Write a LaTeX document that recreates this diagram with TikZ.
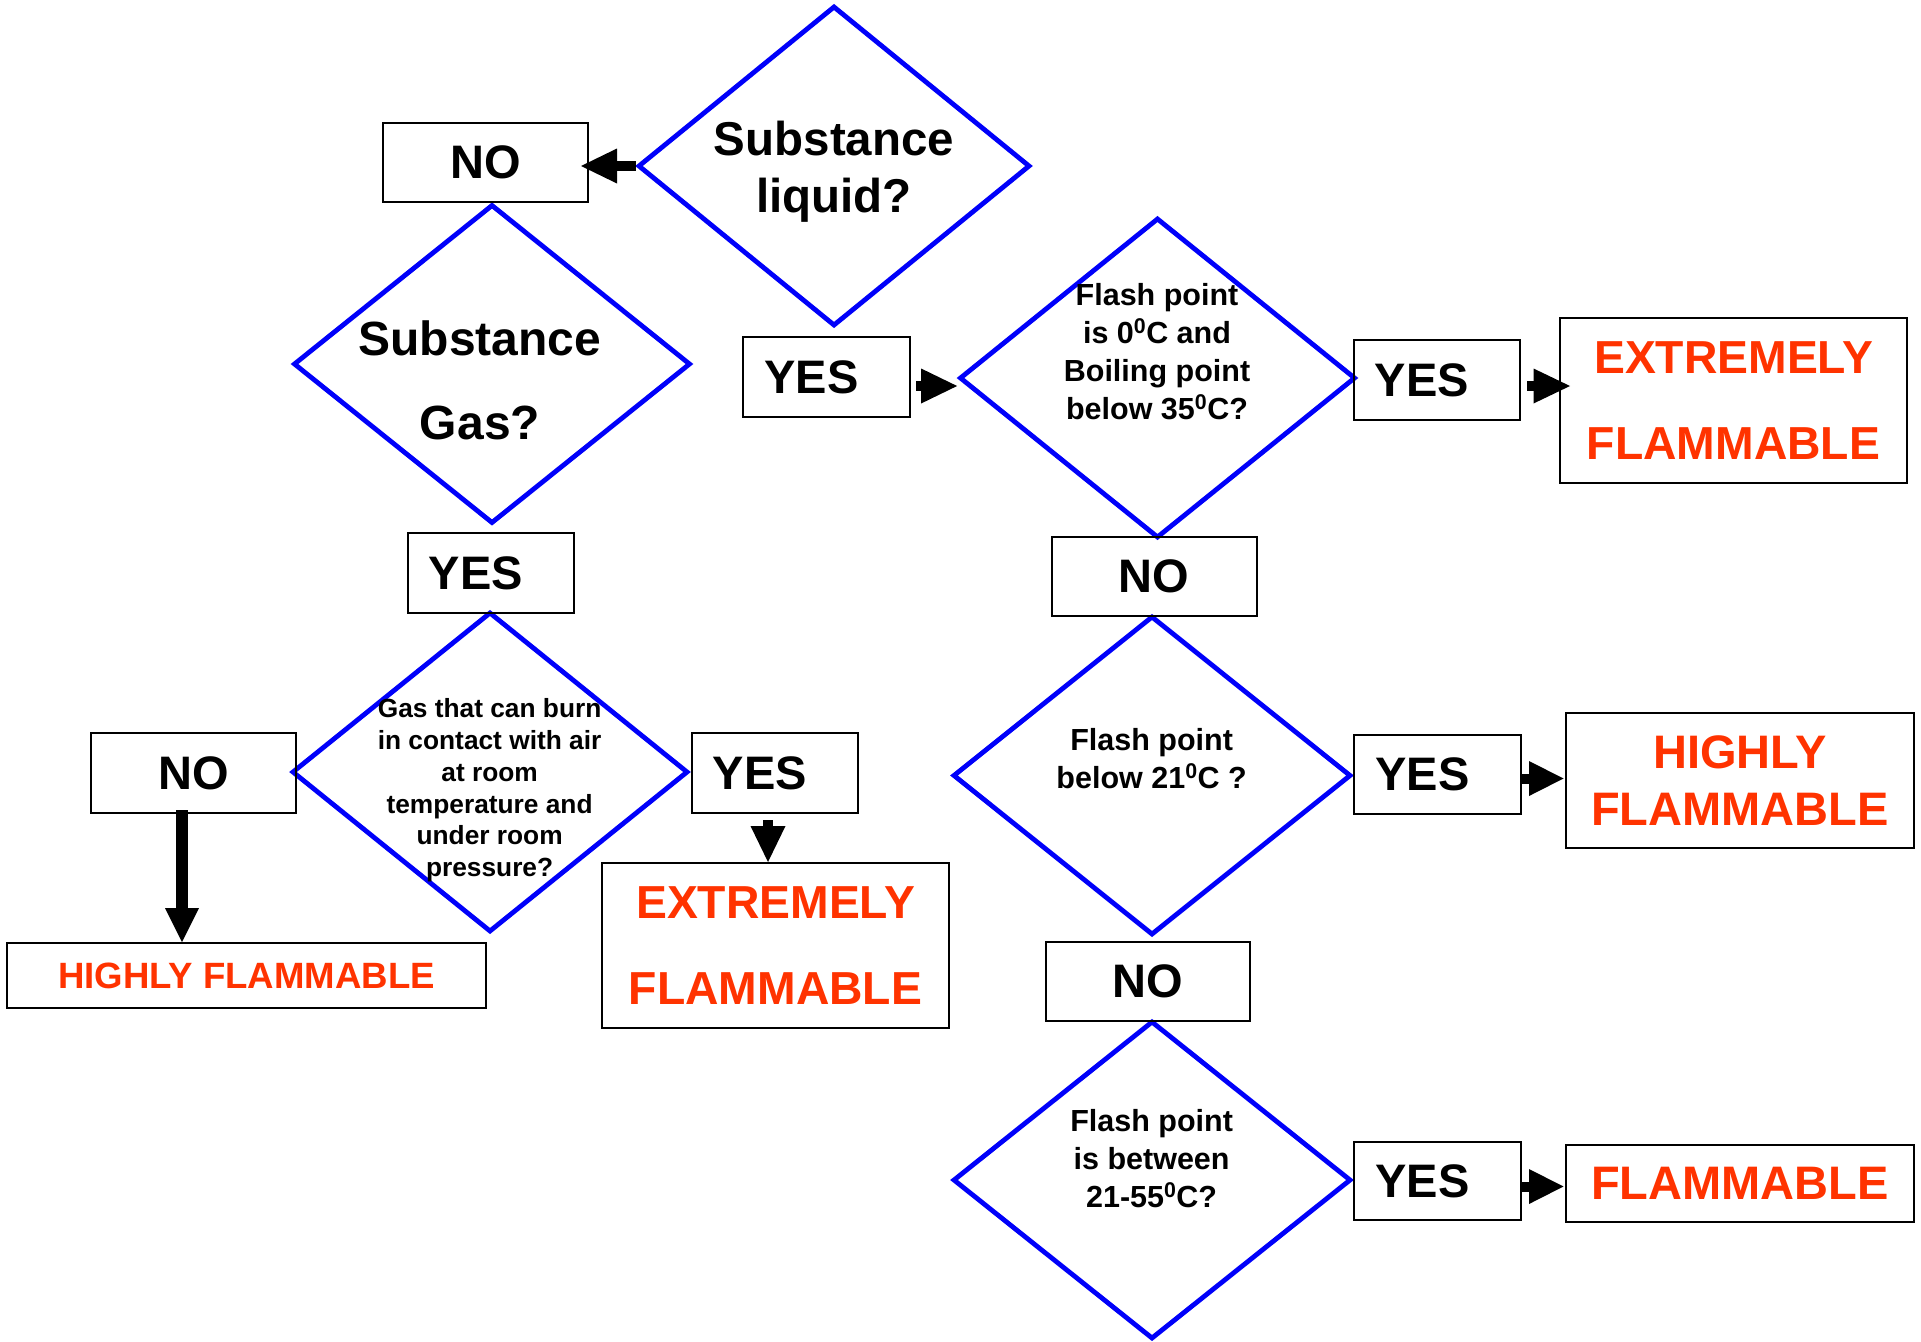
\documentclass[tikz,border=0pt]{standalone}
\usepackage{fontspec}
\setmainfont{Liberation Sans}
\usetikzlibrary{shapes.geometric,arrows.meta}
\definecolor{dblue}{RGB}{0,0,250}
\definecolor{fred}{RGB}{255,51,0}
\newcommand\fsz[2]{\fontsize{#1}{#2}\selectfont\bfseries}
\begin{document}
\begin{tikzpicture}[x=1pt,y=-1pt,
  dia/.style={diamond, draw=dblue, line width=4.8pt, inner sep=0pt},
  box/.style={draw=black, line width=2pt, inner sep=0pt, font=\fsz{47}{56}},
  redbox/.style={box, text=fred, align=center},
  qtext/.style={align=center, anchor=base, inner sep=0pt},
  blk/.style={line width=10pt, -{Triangle[length=36pt,width=35pt,line width=0pt]}}]
\fill[white] (0,0) rectangle (1921,1341);
\useasboundingbox (0,0) rectangle (1921,1341);

% diamonds
\node[dia, minimum width=392pt, minimum height=320pt] (d1) at (834,166) {};
\node[dia, minimum width=397pt, minimum height=319pt] (d2) at (492,364) {};
\node[dia, minimum width=396pt, minimum height=320pt] (d3) at (490,772) {};
\node[dia, minimum width=396pt, minimum height=320pt] (d4) at (1157.5,378) {};
\node[dia, minimum width=398pt, minimum height=319pt] (d5) at (1152,775.5) {};
\node[dia, minimum width=398pt, minimum height=318pt] (d6) at (1152,1180) {};

% question texts (anchored at the baseline of the last line)
\node[qtext, font=\fsz{47.5}{57.7}] (t1) at (834,212.7) {Substance\\liquid?};
\node[qtext, font=\fsz{48}{84.3}] (t2) at (480,439.3) {Substance\\Gas?};
\node[qtext, font=\fsz{26.3}{31.9}] (t3) at (489.6,876.8) {Gas that can burn\\in contact with air\\at room\\temperature and\\under room\\pressure?};
\node[qtext, font=\fsz{30.5}{38}] (t4) at (1157,419) {Flash point\\is 0\textsuperscript{0}C and\\Boiling point\\below 35\textsuperscript{0}C?};
\node[qtext, font=\fsz{30.5}{37.6}] (t5) at (1151.6,788) {Flash point\\below 21\textsuperscript{0}C ?};
\node[qtext, font=\fsz{30.5}{38}] (t6) at (1151.6,1207) {Flash point\\is between\\21-55\textsuperscript{0}C?};

% answer boxes
\node[box, minimum width=205pt, minimum height=79pt] (no1) at (485.5,162.5) {NO};
\node[box, minimum width=167pt, minimum height=80pt] (yes1) at (826.5,377) {YES\kern30pt};
\node[box, minimum width=166pt, minimum height=80pt] (yesg) at (491,573) {YES\kern30pt};
\node[box, minimum width=205pt, minimum height=80pt] (nol) at (193.5,773) {NO};
\node[box, minimum width=166pt, minimum height=80pt] (yesr) at (775,773) {YES\kern30pt};
\node[box, minimum width=166pt, minimum height=80pt] (yes4) at (1437,380) {YES\kern30pt};
\node[box, minimum width=205pt, minimum height=79pt] (no2) at (1154,576.5) {NO};
\node[box, minimum width=167pt, minimum height=79pt] (yes5) at (1437.5,774.5) {YES\kern30pt};
\node[box, minimum width=204pt, minimum height=79pt] (no3) at (1148,981.5) {NO};
\node[box, minimum width=167pt, minimum height=78pt] (yes6) at (1437.5,1181) {YES\kern30pt};

% result boxes
\node[redbox, minimum width=479pt, minimum height=65pt, font=\fsz{36.6}{44}] (hfl) at (246.5,975.5) {HIGHLY FLAMMABLE};
\node[redbox, minimum width=347pt, minimum height=165pt, font=\fsz{46.3}{86.2}] (efl) at (775.5,945.5) {EXTREMELY\\FLAMMABLE};
\node[redbox, minimum width=347pt, minimum height=165pt, font=\fsz{46.3}{86.7}] (efr) at (1733.5,400.5) {EXTREMELY\\FLAMMABLE};
\node[redbox, minimum width=348pt, minimum height=135pt, font=\fsz{47}{57.6}] (hfr) at (1740,780.5) {HIGHLY\\FLAMMABLE};
\node[redbox, minimum width=348pt, minimum height=77pt, font=\fsz{47}{56}] (fr) at (1740,1183.5) {FLAMMABLE};

% arrows
\draw[blk, shorten >=-8pt] (d1.west) -- (no1.east |- d1.west);
\coordinate (s2) at ([shift={(5,9)}]yes1.east);
\draw[blk] (s2) -- (d4.west |- s2);
\coordinate (s3) at ([shift={(6,6)}]yes4.east);
\draw[blk, -{Triangle[length=36.5pt,width=35pt,line width=0pt]}, shorten >=-11pt] (s3) -- (efr.west |- s3);
\coordinate (s4) at ([shift={(-11.5,-4)}]nol.south);
\draw[blk, line width=12pt, -{Triangle[length=34pt,width=34pt,line width=0pt]}] (s4) -- (s4 |- hfl.north);
\coordinate (s5) at ([shift={(-7,6)}]yesr.south);
\draw[blk] (s5) -- (s5 |- efl.north);
\coordinate (s6) at ([shift={(0,4)}]yes5.east);
\draw[blk, -{Triangle[length=34.5pt,width=35pt,line width=0pt]}, shorten >=1.5pt] (s6) -- (hfr.west |- s6);
\coordinate (s7) at ([shift={(0,5.5)}]yes6.east);
\draw[blk, -{Triangle[length=34.5pt,width=35pt,line width=0pt]}, shorten >=1.5pt] (s7) -- (fr.west |- s7);
\end{tikzpicture}
\end{document}
